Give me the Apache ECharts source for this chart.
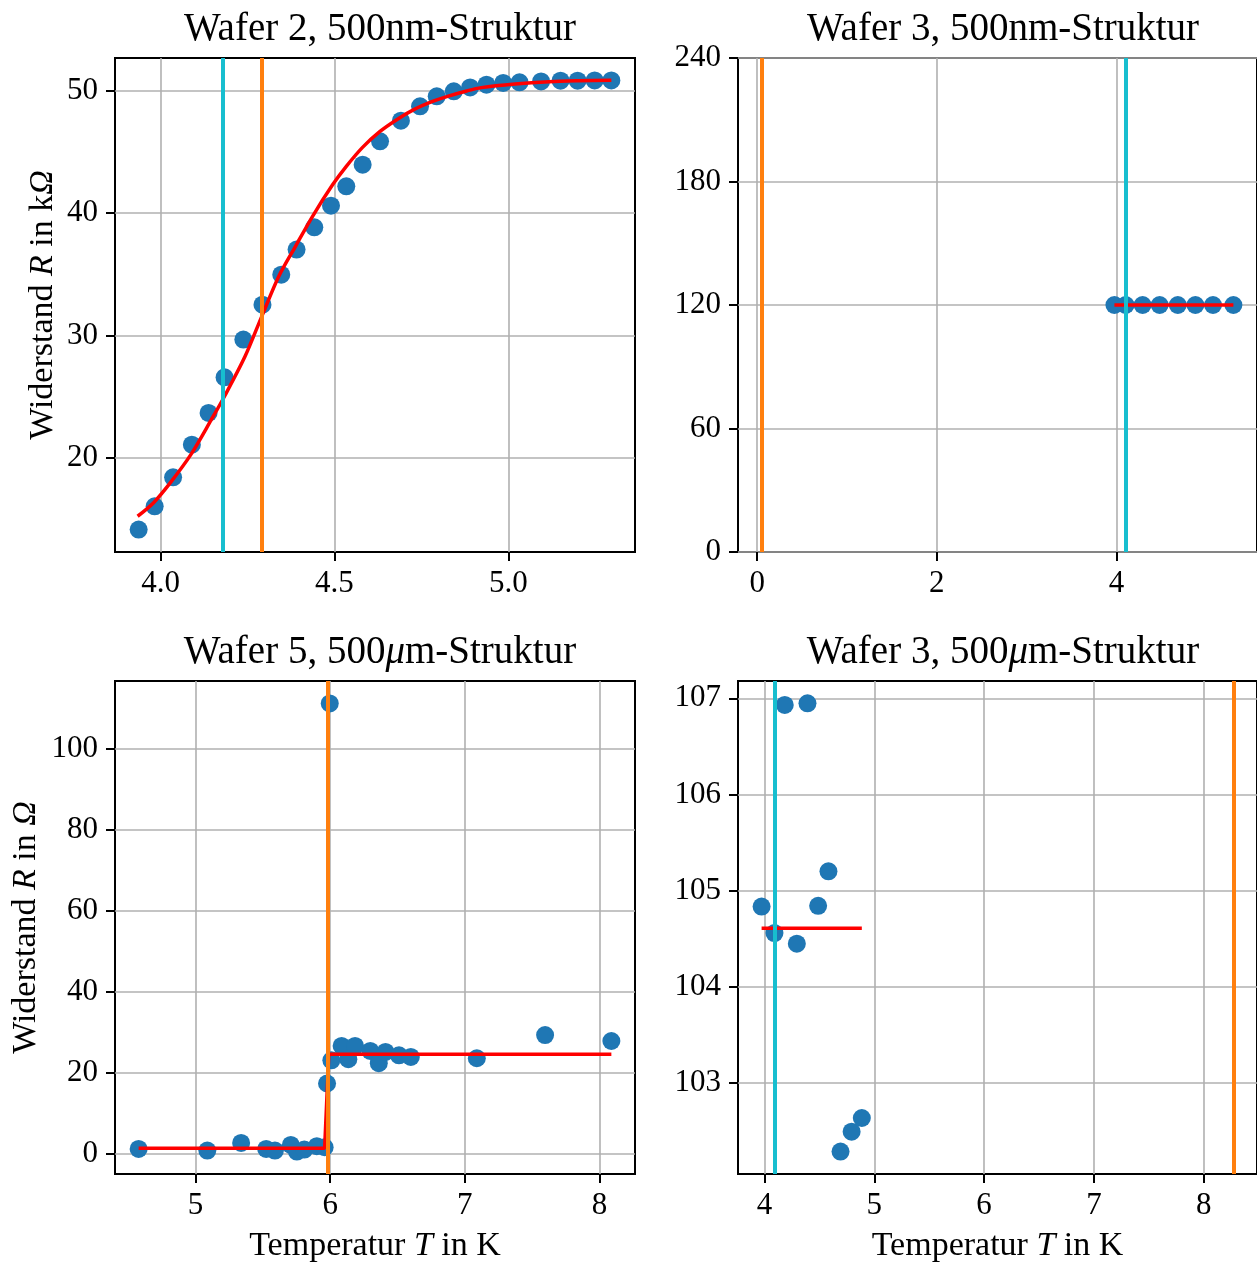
<!DOCTYPE html>
<html>
<head>
<meta charset="utf-8">
<title>Widerstand gegen Temperatur</title>
<script src="https://cdn.jsdelivr.net/npm/echarts@6/dist/echarts.min.js"></script>
<style>
  html, body { margin: 0; padding: 0; background: #fff; }
  #chart { width: 1257px; height: 1264px; }
</style>
</head>
<body>
<div id="chart"></div>
<script>
// Wafer 2, 500 nm structure (kOhm)
const w2T = [3.937, 3.983, 4.036, 4.090, 4.138, 4.184, 4.238, 4.293, 4.347, 4.391,
             4.442, 4.490, 4.534, 4.581, 4.631, 4.691, 4.746, 4.794, 4.843, 4.890,
             4.937, 4.985, 5.032, 5.094, 5.150, 5.199, 5.248, 5.296];
const w2R = [14.15, 16.05, 18.42, 21.09, 23.68, 26.59, 29.67, 32.52, 34.97, 37.02,
             38.84, 40.61, 42.19, 43.96, 45.86, 47.55, 48.72, 49.54, 49.95, 50.27,
             50.49, 50.63, 50.68, 50.76, 50.82, 50.82, 50.84, 50.84];
const w2FitT = [3.934, 3.98, 4.03, 4.087, 4.146, 4.184, 4.243, 4.291, 4.340, 4.388,
                4.437, 4.495, 4.534, 4.580, 4.630, 4.680, 4.728, 4.780, 4.825, 4.880,
                4.922, 5.019, 5.117, 5.200, 5.296];
const w2FitR = [15.24, 16.35, 18.05, 20.27, 23.13, 25.04, 28.30, 31.57, 34.84, 37.29,
                39.74, 42.33, 43.82, 45.35, 46.65, 47.65, 48.45, 49.10, 49.54, 49.98,
                50.25, 50.55, 50.74, 50.81, 50.85];
const w2Cyan = 4.184, w2Orange = 4.291;
const w2TickT = [4.0, 4.5, 5.0];
const w2TickR = [20, 30, 40, 50];

// Wafer 3, 500 nm structure (kOhm)
const w3aT = [3.978, 4.103, 4.292, 4.482, 4.684, 4.880, 5.076, 5.303];
const w3aR = [120, 120, 120, 120, 120, 120, 120, 120];
const w3aFitT = [3.978, 5.303];
const w3aFitR = [120, 120];
const w3aCyan = 4.098, w3aOrange = 0.049;
const w3aTickT = [0, 2, 4];
const w3aTickR = [0, 60, 120, 180, 240];

// Wafer 5, 500 µm structure (Ohm)
const w5T = [4.578, 5.088, 5.339, 5.525, 5.590, 5.708, 5.753, 5.808, 5.901, 5.959,
             5.997, 5.977, 6.009, 6.085, 6.135, 6.185, 6.298, 6.361, 6.411, 6.511,
             6.599, 7.089, 7.596, 8.088];
const w5R = [1.23, 0.82, 2.71, 1.23, 0.82, 2.21, 0.57, 1.07, 1.89, 1.64,
             111.3, 17.39, 23.13, 26.66, 23.38, 26.66, 25.43, 22.40, 25.18, 24.36,
             23.95, 23.63, 29.37, 27.89];
const w5FitT = [4.578, 5.959, 5.99, 8.088];
const w5FitR = [1.39, 1.39, 24.61, 24.61];
const w5Orange = 5.979;
const w5TickT = [5, 6, 7, 8];
const w5TickR = [0, 20, 40, 60, 80, 100];

// Wafer 3, 500 µm structure (Ohm)
const w3bT = [3.973, 4.090, 4.184, 4.294, 4.391, 4.488, 4.582, 4.692, 4.793, 4.886];
const w3bR = [104.836, 104.560, 106.931, 104.450, 106.948, 104.843, 105.202, 102.289, 102.496, 102.638];
const w3bFitT = [3.973, 4.886];
const w3bFitR = [104.61, 104.61];
const w3bCyan = 4.087, w3bOrange = 8.271;
const w3bTickT = [4, 5, 6, 7, 8];
const w3bTickR = [103, 104, 105, 106, 107];

const FONT = 'Liberation Serif';
const BLUE = '#1f77b4', RED = '#ff0000', CYAN = '#17becf', ORANGE = '#ff7f0e';
const TICK = 31, LABEL = 34, TITLE = 39;

const pairs = (xs, ys) => xs.map((x, i) => [x, ys[i]]);

function grid(left, top) {
  return { left, top, width: 520, height: 494, show: true,
           borderColor: '#000', borderWidth: 2, backgroundColor: 'transparent' };
}

function axis(kind, idx, min, max, ticks, fmt, name, nameGap) {
  const a = {
    type: 'value', gridIndex: idx, min, max, scale: true,
    axisLine: { show: false, onZero: false },
    axisTick: { show: true, inside: false, length: 9, customValues: ticks,
                lineStyle: { color: '#000', width: 2 } },
    axisLabel: { customValues: ticks, color: '#000', fontFamily: FONT, fontSize: TICK,
                 margin: kind === 'x' ? 16 : 17, formatter: fmt },
    splitLine: { show: true, lineStyle: { color: '#b0b0b0', width: 1.6 } },
    minorTick: { show: false }
  };
  if (name) {
    a.name = name;
    a.nameLocation = 'middle';
    a.nameGap = nameGap;
    a.nameTextStyle = { color: '#000', fontFamily: FONT, fontSize: LABEL,
                        rich: { i: { fontStyle: 'italic', fontFamily: FONT, fontSize: LABEL, color: '#000' } } };
  }
  return a;
}

function panelSeries(idx, xs, ys, fxs, fys, vlines, smooth) {
  return [
    { type: 'scatter', xAxisIndex: idx, yAxisIndex: idx, data: pairs(xs, ys),
      symbol: 'circle', symbolSize: 18, itemStyle: { color: BLUE, opacity: 1 }, z: 2 },
    { type: 'line', xAxisIndex: idx, yAxisIndex: idx, data: pairs(fxs, fys),
      showSymbol: false, smooth: smooth ? 0.3 : false,
      lineStyle: { color: RED, width: 3.5 }, z: 3 },
    { type: 'line', xAxisIndex: idx, yAxisIndex: idx, data: [], z: 4,
      markLine: { silent: true, symbol: ['none', 'none'], animation: false,
                  label: { show: false },
                  data: vlines.map(v => ({ xAxis: v.x, lineStyle: { color: v.c, width: 4, type: 'solid' } })) } }
  ];
}

const titleStyle = { color: '#000', fontFamily: FONT, fontSize: TITLE, fontWeight: 'normal',
                     rich: { i: { fontStyle: 'italic', fontFamily: FONT, fontSize: TITLE, color: '#000' } } };

const option = {
  animation: false,
  backgroundColor: '#fff',
  title: [
    { text: 'Wafer 2, 500nm-Struktur', left: 375, top: 5, textAlign: 'center', textStyle: titleStyle },
    { text: 'Wafer 3, 500nm-Struktur', left: 998, top: 5, textAlign: 'center', textStyle: titleStyle },
    { text: 'Wafer 5, 500{i|μ}m-Struktur', left: 375, top: 628, textAlign: 'center', textStyle: titleStyle },
    { text: 'Wafer 3, 500{i|μ}m-Struktur', left: 998, top: 628, textAlign: 'center', textStyle: titleStyle }
  ],
  grid: [grid(115, 58), grid(738, 58), grid(115, 681), grid(738, 681)],
  xAxis: [
    axis('x', 0, 3.869, 5.364, w2TickT, v => v.toFixed(1)),
    axis('x', 1, -0.214, 5.566, w3aTickT, v => String(v)),
    axis('x', 2, 4.4025, 8.2635, w5TickT, v => String(v), 'Temperatur {i|T} in K', 55),
    axis('x', 3, 3.758, 8.486, w3bTickT, v => String(v), 'Temperatur {i|T} in K', 55)
  ],
  yAxis: [
    axis('y', 0, 12.32, 52.67, w2TickR, v => String(v), 'Widerstand {i|R} in k{i|Ω}', 55),
    axis('y', 1, 0, 240, w3aTickR, v => String(v)),
    axis('y', 2, -4.97, 116.84, w5TickR, v => String(v), 'Widerstand {i|R} in {i|Ω}', 72),
    axis('y', 3, 102.056, 107.18, w3bTickR, v => String(v))
  ],
  series: [
    ...panelSeries(0, w2T, w2R, w2FitT, w2FitR, [{ x: w2Cyan, c: CYAN }, { x: w2Orange, c: ORANGE }], true),
    ...panelSeries(1, w3aT, w3aR, w3aFitT, w3aFitR, [{ x: w3aOrange, c: ORANGE }, { x: w3aCyan, c: CYAN }], false),
    ...panelSeries(2, w5T, w5R, w5FitT, w5FitR, [{ x: w5Orange, c: ORANGE }], false),
    ...panelSeries(3, w3bT, w3bR, w3bFitT, w3bFitR, [{ x: w3bCyan, c: CYAN }, { x: w3bOrange, c: ORANGE }], false)
  ]
};

const chart = echarts.init(document.getElementById('chart'), null, { renderer: 'canvas' });
chart.setOption(option);
</script>
</body>
</html>
